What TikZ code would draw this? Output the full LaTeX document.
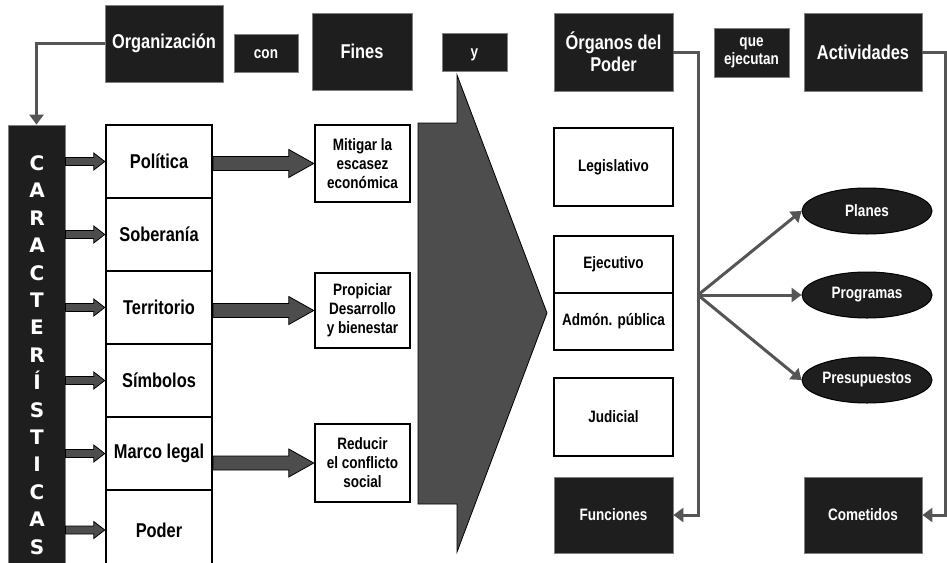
\documentclass[tikz,border=0pt]{standalone}
\usepackage{fontspec}
\setmainfont{Liberation Sans}[FakeStretch=0.82]
\newfontfamily\letterfont{DejaVu Sans}
\usetikzlibrary{arrows.meta,calc,shapes.geometric}
\definecolor{boxblack}{RGB}{30,30,30}
\definecolor{arrgray}{RGB}{77,77,77}
\definecolor{conngray}{RGB}{85,85,85}
\newcommand{\bigtxt}{\fontsize{20}{22}\selectfont\bfseries}
\newcommand{\smalltxt}{\fontsize{16.5}{19}\selectfont\bfseries}
\newcommand{\tinytxt}{\fontsize{16.5}{18}\selectfont\bfseries}
\newcommand{\mkfatarrow}[5]{%
  \draw[fatarrow] let \p1=(#1), \p2=(#2) in
    (\x1,\y2+#3) -- (\x2-#5,\y2+#3) -- (\x2-#5,\y2+#4) -- (\x2,\y2)
    -- (\x2-#5,\y2-#4) -- (\x2-#5,\y2-#3) -- (\x1,\y2-#3) -- cycle;}
\tikzset{
  blk/.style={rectangle, fill=boxblack, draw=gray, line width=0.8pt, text=white, align=center, inner sep=0pt, font=\bigtxt},
  wht/.style={rectangle, fill=white, draw=black, line width=2.5pt, text=black, align=center, inner sep=0pt, font=\bigtxt},
  ell/.style={ellipse, fill=boxblack, draw=black, line width=1pt, text=white, font=\smalltxt, minimum width=130pt, minimum height=46pt, inner sep=0pt},
  conn/.style={draw=conngray, line width=3pt, -{Triangle[length=10pt,width=14pt]}},
  fatarrow/.style={fill=arrgray, draw=black, line width=0.8pt},
  wh/.style 2 args={minimum width=#1pt, minimum height=#2pt},
  lowtext/.style={text height=11pt, text depth=1pt},
  letterstyle/.style={text=white, font=\letterfont\bfseries\fontsize{20}{20}\selectfont, inner sep=0pt, anchor=base}
}
\begin{document}
\begin{tikzpicture}[x=1pt,y=-1pt]
\useasboundingbox (0,0) rectangle (947,562);
\clip (0,0) rectangle (947,562);
\fill[white] (0,0) rectangle (947,562);

% top row
\node[blk, wh={118}{77}] (org) at (164,43.5) {Organización};
\node[blk, wh={64}{38}, font=\tinytxt, lowtext] (con) at (266,53) {con};
\node[blk, wh={100}{77}] (fines) at (362,51.5) {Fines};
\node[blk, wh={65}{38}, font=\tinytxt, lowtext] (yb) at (474.5,52) {y};
\node[blk, wh={119}{78}] (organos) at (613.5,52) {Órganos del\\Poder};
\node[blk, wh={75}{49}, font=\tinytxt] (que) at (751.5,52.5) {que\\ejecutan};
\node[blk, wh={118}{78}] (activ) at (863,52) {Actividades};

% caracteristicas column
\node[blk, wh={57}{450}] (carac) at (36.5,350) {};
\foreach \L [count=\i from 0] in {C,A,R,A,C,T,E,R,Í,S,T,I,C,A,S}
  {\node[letterstyle] (cl\i) at (37,170.5+27.4*\i) {\L};}

% list
\node[wht, wh={106}{73}] (pol) at (159,161.5) {Política};
\node[wht, wh={106}{73}] (sob) at (159,234.5) {Soberanía};
\node[wht, wh={106}{73}] (ter) at (159,307.5) {Territorio};
\node[wht, wh={106}{73}] (sim) at (159,380.5) {Símbolos};
\node[wht, wh={106}{73}] (mar) at (159,453.5) {Marco legal};
\node[wht, wh={106}{80}] (pod) at (159,530) {Poder};

% goals
\node[wht, wh={95}{77}, font=\smalltxt] (mit) at (362.5,163.5) {Mitigar la\\escasez\\económica};
\node[wht, wh={95}{75}, font=\smalltxt] (pro) at (362.5,310.5) {Propiciar\\Desarrollo\\y bienestar};
\node[wht, wh={95}{78}, font=\smalltxt] (red) at (362.5,463) {Reducir\\el conflicto\\social};

% big funnel arrow
\draw[fatarrow] (457,75) -- (547,313) -- (457,552) -- (457,504) -- (418,504) -- (418,123) -- (457,123) -- cycle;

% organs
\node[wht, wh={119}{78}, font=\smalltxt] (leg) at (613.5,167) {Legislativo};
\node[wht, wh={119}{57}, font=\smalltxt] (eje) at (613.5,264.5) {Ejecutivo};
\node[wht, wh={119}{57}, font=\smalltxt] (adm) at (613.5,321.5) {Admón. pública};
\node[wht, wh={119}{78}, font=\smalltxt] (jud) at (613.5,417) {Judicial};
\node[blk, wh={119}{76}, font=\smalltxt] (func) at (613.5,515) {Funciones};
\node[blk, wh={118}{76}, font=\smalltxt] (comet) at (863,515) {Cometidos};

% ellipses
\node[ell] (planes) at (867,211) {Planes};
\node[ell] (progr) at (867,295) {Programas};
\node[ell] (presu) at (867,380) {Presupuestos};

% connectors
\draw[conn] (org.west) -| (carac.north);
\draw[conn] (organos.east) -- ++(25,0) |- (func.east);
\draw[conn] (activ.east) -- ++(23,0) |- (comet.east);
\coordinate (br) at (698,295);
\draw[conn] (br) -- (planes.west);
\draw[conn] (br) -- (progr.west);
\draw[conn] (br) -- (presu.west);

% small fat arrows
\mkfatarrow{carac.east}{pol.west}{4pt}{8.5pt}{11pt}
\mkfatarrow{carac.east}{sob.west}{4pt}{8.5pt}{11pt}
\mkfatarrow{carac.east}{ter.west}{4pt}{8.5pt}{11pt}
\mkfatarrow{carac.east}{sim.west}{4pt}{8.5pt}{11pt}
\mkfatarrow{carac.east}{mar.west}{4pt}{8.5pt}{11pt}
\mkfatarrow{carac.east}{pod.west}{4pt}{8.5pt}{11pt}
% big fat arrows
\mkfatarrow{pol.east}{mit.west}{7pt}{14pt}{25pt}
\mkfatarrow{ter.east}{pro.west}{7pt}{14pt}{25pt}
\mkfatarrow{mar.east}{red.west}{7pt}{14pt}{25pt}
\end{tikzpicture}
\end{document}
